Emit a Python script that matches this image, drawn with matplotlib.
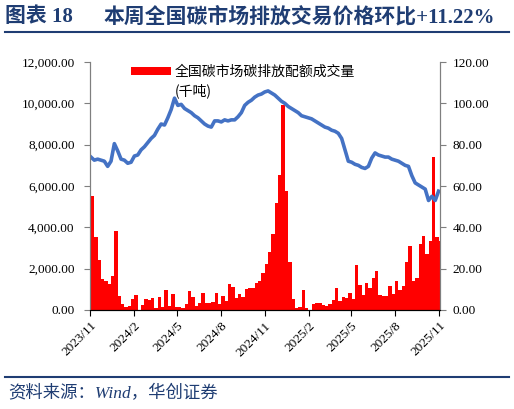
import numpy as np
import pandas as pd
import matplotlib
matplotlib.use('Agg')
import matplotlib.pyplot as plt
import matplotlib.ticker as ticker
from matplotlib.patches import Patch

plt.rcParams['font.family'] = ['Liberation Serif', 'Noto Sans CJK SC']
plt.rcParams['axes.unicode_minus'] = False

# --- data (weekly) ---
start_date = '2023-11-03'
# 全国碳市场碳排放配额成交量 (千吨)
volume = [5530, 3540, 2430, 1500, 1400, 1260, 1650, 3830, 680, 300,
          150, 200, 530, 720, 0, 250, 530, 490, 580, 100,
          630, 150, 970, 200, 780, 150, 150, 100, 300, 920,
          630, 200, 330, 830, 355, 340, 400, 840, 290, 680,
          440, 1260, 1120, 600, 760, 630, 1020, 1080, 1080, 1330,
          1410, 1770, 2230, 2790, 3690, 5200, 6510, 9910, 5780, 2300,
          530, 110, 140, 985, 110, 0, 290, 355, 355, 250,
          200, 290, 485, 1080, 450, 630, 600, 840, 530, 2190,
          1210, 730, 1330, 1080, 1550, 1890, 730, 680, 680, 1170,
          780, 1410, 970, 1170, 2300, 3110, 1410, 1570, 3200, 3600,
          2720, 3350, 7400, 3510, 3350]
# 全国碳市场收盘价 (元/吨)
price = [74, 72.5, 73, 72.5, 72, 69.5, 72, 80.5, 77, 73,
         72.5, 71, 71.5, 74.5, 75, 77.5, 79, 81, 83, 84.5,
         87.5, 90, 89.5, 93, 97, 102.5, 99, 99.5, 97.5, 96.5,
         95.5, 94, 93, 91.5, 90, 89, 88.5, 91.5, 91.5, 91,
         92, 91.5, 92, 92, 93.5, 95.5, 99, 100.5, 101.5, 103,
         104, 104.5, 105.5, 106, 105, 104, 102.5, 101, 100, 98.5,
         97.5, 96.5, 95.5, 94, 93.5, 93, 92.5, 91.5, 90.5, 89.5,
         88.5, 88, 87, 86.5, 85.5, 83, 77.5, 72, 71.5, 70.5,
         70, 69, 68.5, 69.5, 73.5, 76, 75, 74.5, 74, 74,
         73, 72.5, 72, 71, 70, 69.5, 65, 61.5, 60.5, 59.5,
         58.5, 53, 55, 53, 57.5]
tick_labels = ['2023/11', '2024/2', '2024/5', '2024/8', '2024/11',
               '2025/2', '2025/5', '2025/8', '2025/11']

dates = pd.date_range(start_date, periods=len(volume), freq='7D')
tick_dates = pd.to_datetime(tick_labels, format='%Y/%m')

title_color = '#1F3D73'

fig = plt.figure(figsize=(5.14, 4.09), dpi=100)
ax = fig.add_axes([90 / 514, 1 - 310 / 409, 350 / 514, 248 / 409])
ax2 = ax.twinx()

bars = ax.bar(dates, volume, width=7, align='edge', color='#FF0000', linewidth=0)
ax2.plot(dates, price, color='#4472C4', linewidth=2.6, solid_joinstyle='round')

ax.set_xlim(pd.Timestamp('2023-11-01'), pd.Timestamp('2025-11-03'))
ax.set_ylim(0, 12000)
ax2.set_ylim(0, 120)
ax.yaxis.set_major_locator(ticker.MultipleLocator(2000))
ax2.yaxis.set_major_locator(ticker.MultipleLocator(20))
ax.yaxis.set_major_formatter(ticker.FuncFormatter(lambda v, p: f'{v:,.2f}'))
ax2.yaxis.set_major_formatter(ticker.FuncFormatter(lambda v, p: f'{v:.2f}'))
ax.set_xticks(tick_dates)
ax.set_xticklabels(tick_labels, rotation=45, ha='right', rotation_mode='anchor')

for a in (ax, ax2):
    a.spines['top'].set_visible(False)
    a.spines['left'].set_color('#7F7F7F')
    a.spines['right'].set_color('#7F7F7F')
    a.spines['bottom'].set_color('black')
    a.tick_params(labelsize=9.5, length=4, width=0.8, colors='#7F7F7F',
                  labelcolor='black')
ax.tick_params(axis='x', colors='black', pad=3)
ax.tick_params(axis='y', pad=7)
ax2.tick_params(axis='y', pad=5)

# legend: label wraps onto a second line under the text
blank = Patch(facecolor='none', edgecolor='none')
leg = ax.legend([bars, blank], ['全国碳市场碳排放配额成交量', '(千吨)'],
                loc='upper left', bbox_to_anchor=(0.08, 1.038), frameon=False,
                prop={'family': 'Noto Sans CJK SC', 'size': 10},
                handlelength=2.9, handleheight=0.55, handletextpad=0.3,
                labelspacing=0.3)

# title & source
fig.text(0.010, 0.958, '图表 18', fontsize=15, fontweight='bold',
         color=title_color, va='center')
fig.text(103 / 514, 0.958, '本周全国碳市场排放交易价格环比+11.22%',
         fontsize=15, fontweight='bold', color=title_color, va='center')
fig.add_artist(plt.Line2D([0.01, 0.99], [1 - 32 / 409] * 2, color=title_color,
                          linewidth=1.5))
fig.add_artist(plt.Line2D([0.01, 0.99], [1 - 377 / 409] * 2, color=title_color,
                          linewidth=1.5))
fig.text(0.015, 1 - 394 / 409, '资料来源：Wind，华创证券', fontsize=12.5,
         style='italic', color=title_color, va='center')

fig.savefig('out.png', dpi=100)
